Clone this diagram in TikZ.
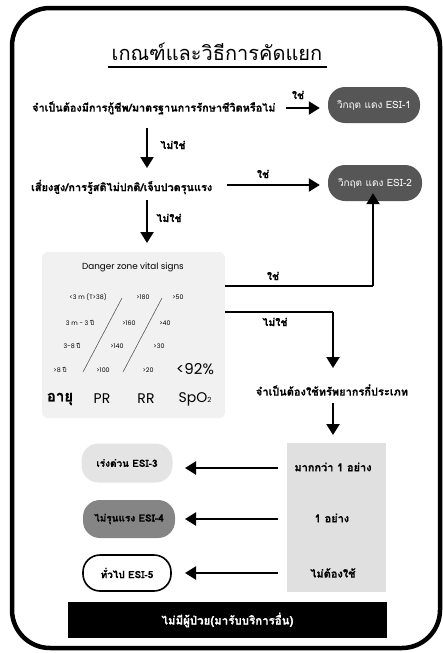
\documentclass[tikz,border=0pt]{standalone}
\usepackage{fontspec}
\setmainfont{Loma}[Script=Thai, BoldFeatures={FakeBold=0.5}]
\newfontfamily\popfont{Poppins}
\usetikzlibrary{arrows.meta}
\definecolor{darkpill}{HTML}{565656}
\definecolor{midpill}{HTML}{858585}
\definecolor{lightpill}{HTML}{E4E4E4}
\definecolor{vitalbg}{HTML}{F1F1F1}
\definecolor{resbg}{HTML}{E0E0E0}
\begin{document}
\begin{tikzpicture}[x=1pt,y=-1pt,
  flow/.style={line width=2.2pt, -{Triangle[length=11pt,width=13pt]}},
  elbow/.style={line width=2.2pt},
  question/.style={font=\bfseries\fontsize{10.9}{13}\selectfont, inner sep=0pt},
  answer/.style={font=\bfseries\fontsize{10.5}{12}\selectfont, inner sep=0pt},
  pill/.style={rounded corners=17pt, minimum width=92pt, minimum height=36pt,
    inner sep=0pt, font=\fontsize{10}{12}\selectfont},
  vsmall/.style={font=\popfont\fontsize{6.3}{7}\selectfont, inner sep=0pt},
  vbig/.style={font=\popfont\fontsize{14}{16}\selectfont, inner sep=0pt},
]
\useasboundingbox (0,0) rectangle (443,653);
\fill[white] (0,0) rectangle (443,653);

% outer frame
\draw[line width=4.5pt, rounded corners=38pt] (12,8) rectangle (440,648);

% title
\node[font=\fontsize{20}{24}\selectfont, inner sep=0pt] (title) at (217,52) {เกณฑ์และวิธีการคัดแยก};
\draw[line width=2pt] (108,67) -- (327,67);

% level 1
\node[question, anchor=west] (q1) at (32,108) {จำเป็นต้องมีการกู้ชีพ/มาตรฐานการรักษาชีวิตหรือไม่};
\node[pill, fill=darkpill, text=white] (esi1) at (374,105) {วิกฤต แดง ESI-1};
\coordinate (a1) at (286,108);
\draw[flow, shorten >=8pt] (a1) -- (esi1.west |- a1);
\node[answer] (y1) at (298,95) {ใช่};

% level 2
\coordinate (d1) at (147,128);
\node[question, anchor=west] (q2) at (31,187) {เสี่ยงสูง/การรู้สติไม่ปกติ/เจ็บปวดรุนแรง};
\draw[flow] (d1) -- (147,168);
\node[answer] (n1) at (173,145) {ไม่ใช่};
\node[pill, fill=darkpill, text=white, minimum width=94pt] (esi2) at (375,183) {วิกฤต แดง ESI-2};
\coordinate (a2) at (227,185);
\draw[flow, shorten >=8pt] (a2) -- (esi2.west |- a2);
\node[answer] (y2) at (263,174) {ใช่};

% vital signs box
\coordinate (d2) at (147,200);
\draw[flow] (d2) -- (147,243);
\node[answer] (n2) at (169,218) {ไม่ใช่};
\node[fill=vitalbg, rounded corners=6pt, minimum width=183pt, minimum height=166pt,
  inner sep=0pt] (vital) at (133.5,335) {};
\node[font=\popfont\fontsize{8.8}{10}\selectfont, inner sep=0pt] (vtitle) at (133,267) {Danger zone vital signs};
\node[vsmall] (age1) at (88,297) {<3 m (T>38)};
\node[vsmall] (pr1) at (143,297) {>180};
\node[vsmall] (rr1) at (178,297) {>50};
\node[vsmall] (age2) at (80,323) {3 m - 3 {\rmfamily ปี}};
\node[vsmall] (pr2) at (129,323) {>160};
\node[vsmall] (rr2) at (165,323) {>40};
\node[vsmall] (age3) at (72,346) {3-8 {\rmfamily ปี}};
\node[vsmall] (pr3) at (117,346) {>140};
\node[vsmall] (rr3) at (159,346) {>30};
\node[vsmall] (age4) at (60,370) {>8 {\rmfamily ปี}};
\node[vsmall] (pr4) at (103,370) {>100};
\node[vsmall] (rr4) at (148,370) {>20};
\node[vbig, font=\popfont\fontsize{15}{17}\selectfont] (spo) at (195,369) {<92\%};
\draw[gray!70!black, line width=0.6pt] (122,298) -- (83,372);
\draw[gray!70!black, line width=0.6pt] (162,298) -- (123,372);
\node[font=\bfseries\fontsize{15}{17}\selectfont, inner sep=0pt] (hage) at (60,399) {อายุ};
\node[vbig] (hpr) at (102,399) {PR};
\node[vbig] (hrr) at (146,399) {RR};
\node[vbig] (hspo) at (195,399) {SpO\raisebox{-0.1ex}{\fontsize{7}{8}\selectfont 2}};

% exits of the vital signs box
\coordinate (yv) at (373,286);
\draw[elbow] (vital.east |- yv) -- (yv);
\draw[flow] (yv) -- ([yshift=8pt]esi2.south -| yv);
\node[answer] (y3) at (273,276) {ใช่};
\coordinate (nv) at (333,312);
\draw[elbow] (vital.east |- nv) -- (nv);
\draw[flow] (nv) -- (333,368);
\node[answer] (n3) at (275,322) {ไม่ใช่};

% resources
\node[question, font=\bfseries\fontsize{11}{13}\selectfont] (q3) at (332,390) {จำเป็นต้องใช้ทรัพยากรกี่ประเภท};
\draw[flow] (333,403) -- (333,435);
\node[fill=resbg, minimum width=99pt, minimum height=149pt, inner sep=0pt] (res) at (336.5,517.5) {};
\node[answer, font=\bfseries\fontsize{11}{13}\selectfont] (r1) at (333,467) {มากกว่า 1 อย่าง};
\node[answer, font=\bfseries\fontsize{11}{13}\selectfont] (r2) at (332,518) {1 อย่าง};
\node[answer, font=\bfseries\fontsize{11}{13}\selectfont] (r3) at (333,573) {ไม่ต้องใช้};

\node[pill, fill=lightpill, minimum width=91pt, minimum height=39pt, font=\bfseries\fontsize{10}{12}\selectfont] (esi3) at (127,463) {เร่งด่วน ESI-3};
\node[pill, fill=midpill, minimum width=92pt, minimum height=38pt, font=\bfseries\fontsize{10}{12}\selectfont] (esi4) at (129,519) {ไม่รุนแรง ESI-4};
\node[pill, draw=black, line width=1.6pt, fill=white, minimum width=88pt, minimum height=36pt, font=\bfseries\fontsize{10}{12}\selectfont] (esi5) at (127,573) {ทั่วไป ESI-5};

\draw[flow] (278,468) -- (185,468);
\draw[flow] (278,519) -- (185,519);
\draw[flow] (278,573) -- (185,573);

% no patient bar
\node[fill=black, text=white, minimum width=319pt, minimum height=36pt, inner sep=0pt,
  font=\bfseries\fontsize{11.5}{13}\selectfont] (none) at (227.5,620) {ไม่มีผู้ป่วย(มารับบริการอื่น)};
\end{tikzpicture}
\end{document}
